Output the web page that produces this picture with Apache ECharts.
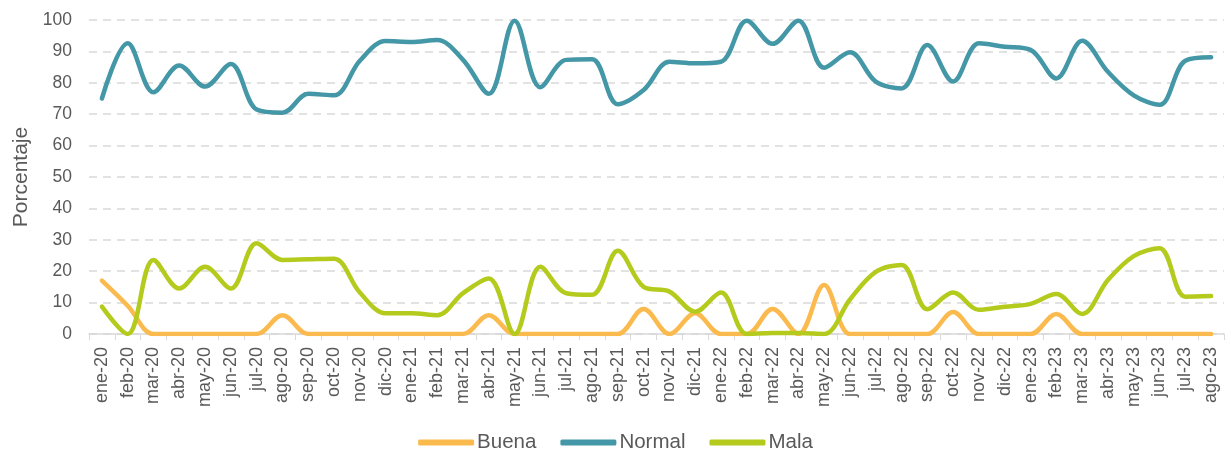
<!DOCTYPE html>
<html>
<head>
<meta charset="utf-8">
<script src="https://cdn.jsdelivr.net/npm/echarts@6/dist/echarts.min.js"></script>
<style>
  html, body { margin: 0; padding: 0; background: #fff; }
  #chart { width: 1231px; height: 452px; }
</style>
</head>
<body>
<div id="chart"></div>
<script>
// meses ene-20 .. ago-23
var meses = [
  "ene-20", "feb-20", "mar-20", "abr-20", "may-20", "jun-20", "jul-20", "ago-20", "sep-20", "oct-20", "nov-20", "dic-20",
  "ene-21", "feb-21", "mar-21", "abr-21", "may-21", "jun-21", "jul-21", "ago-21", "sep-21", "oct-21", "nov-21", "dic-21",
  "ene-22", "feb-22", "mar-22", "abr-22", "may-22", "jun-22", "jul-22", "ago-22", "sep-22", "oct-22", "nov-22", "dic-22",
  "ene-23", "feb-23", "mar-23", "abr-23", "may-23", "jun-23", "jul-23", "ago-23"
];

var buena = [
  17, 9, 0, 0, 0, 0, 0, 6, 0, 0, 0, 0,
  0, 0, 0, 6, 0, 0, 0, 0, 0, 8, 0, 6.6,
  0, 0, 8, 0, 15.6, 0, 0, 0, 0, 7, 0, 0,
  0, 6.4, 0, 0, 0, 0, 0, 0
];

var normal = [
  75, 92.6, 77, 85.5, 78.8, 86, 71.5, 70.5, 76.5, 76, 87, 93.3,
  93, 93.6, 87.3, 76.5, 99.8, 78.6, 87.3, 87.5, 73.2, 77.7, 86.7, 86.2,
  86.7, 99.8, 92.4, 99.8, 84.8, 89.7, 80.4, 78.2, 92, 80.4, 92.6, 91.5,
  90.5, 81.4, 93.4, 83.5, 76, 73, 87, 88.1
];

var mala = [
  8.7, 0, 23.6, 14.5, 21.4, 14.5, 28.9, 23.6, 23.8, 24, 13.2, 6.6,
  6.6, 6, 13, 17.7, 0, 21.4, 13, 12.5, 26.5, 15, 13.5, 7.1,
  13.2, 0, 0.3, 0.3, 0, 11, 19.8, 22, 7.9, 13.2, 7.7, 8.7,
  9.6, 12.7, 6.4, 17.2, 24.8, 27.3, 11.9, 12.1
];

var yTicks = [0, 10, 20, 30, 40, 50, 60, 70, 80, 90, 100];

var colores = { buena: "#fbba4e", normal: "#4497a6", mala: "#b4cb1d" };
var fuente = "Liberation Sans, Arial, sans-serif";

var chart = echarts.init(document.getElementById("chart"));

function serie(nombre, datos, color) {
  return {
    name: nombre,
    type: "line",
    data: datos,
    smooth: 0.35,
    symbol: "none",
    lineStyle: { width: 4.5, color: color, cap: "round" },
    itemStyle: { color: color }
  };
}

chart.setOption({
  animation: false,
  textStyle: { fontFamily: fuente },
  grid: { left: 89, right: 7, top: 20, bottom: 118 },
  legend: {
    top: 432,
    left: "center",
    padding: 0,
    itemWidth: 56,
    itemHeight: 6,
    itemGap: 24,
    icon: "roundRect",
    textStyle: { fontSize: 20.5, color: "#595959", fontFamily: fuente, padding: [0, 0, 0, -2] },
    data: ["Buena", "Normal", "Mala"]
  },
  xAxis: {
    type: "category",
    data: meses,
    boundaryGap: true,
    axisLine: { lineStyle: { color: "#d9d9d9", width: 1.5 } },
    axisTick: { show: true, length: 6, lineStyle: { color: "#d9d9d9" } },
    axisLabel: {
      interval: 0,
      rotate: 90,
      fontSize: 18,
      color: "#595959",
      margin: 13,
      fontFamily: fuente
    }
  },
  yAxis: {
    type: "value",
    min: yTicks[0],
    max: yTicks[yTicks.length - 1],
    interval: 10,
    name: "Porcentaje",
    nameLocation: "middle",
    nameGap: 56,
    nameTextStyle: { fontSize: 21, color: "#595959", fontFamily: fuente },
    axisLine: { show: false },
    axisTick: { show: false },
    axisLabel: { fontSize: 17.5, color: "#595959", margin: 17, fontFamily: fuente },
    splitLine: { lineStyle: { color: "#d9d9d9", type: [8, 6], width: 1.5 } }
  },
  series: [
    serie("Buena", buena, colores.buena),
    serie("Normal", normal, colores.normal),
    serie("Mala", mala, colores.mala)
  ]
});
</script>
</body>
</html>
